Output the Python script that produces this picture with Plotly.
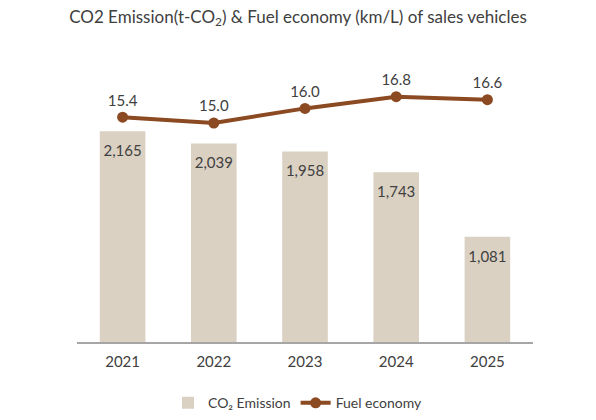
import plotly.graph_objects as go

years = ["2021", "2022", "2023", "2024", "2025"]
co2_emission = [2165, 2039, 1958, 1743, 1081]
fuel_economy = [15.4, 15.0, 16.0, 16.8, 16.6]

FONT = "Lato"
TXT = "#404040"

fig = go.Figure()
fig.add_trace(go.Bar(
    x=years, y=co2_emission, name="CO₂ Emission",
    marker=dict(color="#DAD1C3", line=dict(width=0)),
    width=0.5,
    yaxis="y",
))
# bar value labels, just below each bar's top
fig.add_trace(go.Scatter(
    x=years, y=co2_emission, mode="markers+text",
    marker=dict(size=20, opacity=0),
    text=[f"{v:,}" for v in co2_emission], textposition="bottom center",
    textfont=dict(family=FONT, size=15, color=TXT),
    showlegend=False, hoverinfo="skip", yaxis="y",
))
fig.add_trace(go.Scatter(
    x=years, y=fuel_economy, name="Fuel economy",
    mode="lines+markers+text",
    line=dict(color="#8B4A22", width=4),
    marker=dict(color="#8B4A22", size=11),
    text=[f"{v:.1f}" for v in fuel_economy], textposition="top center",
    textfont=dict(family=FONT, size=15, color=TXT),
    cliponaxis=False,
    yaxis="y2",
))

fig.update_layout(
    width=596, height=420,
    margin=dict(l=77, r=63, t=50, b=78, autoexpand=False),
    paper_bgcolor="white", plot_bgcolor="white",
    font=dict(family=FONT, color=TXT),
    title=dict(text="CO2 Emission(t-CO<sub>2</sub>) & Fuel economy (km/L) of sales vehicles",
               x=0.5, xanchor="center", y=0.96, yanchor="middle",
               font=dict(family=FONT, size=17, color=TXT)),
    bargap=0.5,
    xaxis=dict(type="category", showline=True, linecolor="#A6A6A6", linewidth=1.5, ticks="",
               ticklabelstandoff=5,
               tickfont=dict(family=FONT, size=15, color=TXT), showgrid=False),
    yaxis=dict(range=[0, 3000], visible=False, showgrid=False),
    yaxis2=dict(range=[0, 20], visible=False, overlaying="y", showgrid=False),
    legend=dict(orientation="h", x=0.5, xanchor="center", xref="container",
                y=0.04, yanchor="middle", yref="container",
                font=dict(family=FONT, size=14, color=TXT)),
    showlegend=True,
)

fig.write_html("out.html")
